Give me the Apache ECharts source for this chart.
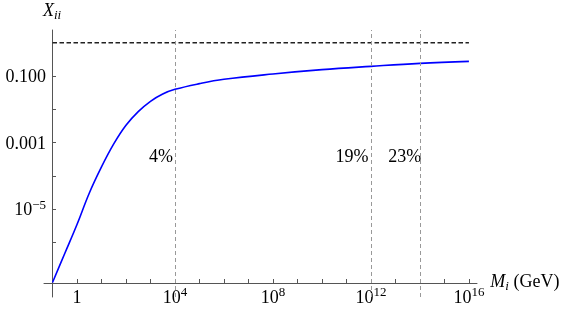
<!DOCTYPE html>
<html><head><meta charset="utf-8">
<script src="https://cdn.jsdelivr.net/npm/echarts@6/dist/echarts.min.js"></script>
<style>html,body{margin:0;padding:0;background:#fff}#c{width:568px;height:334px}</style>
</head><body><div id="c"></div>
<script>
// log10 of M_i (GeV) and log10 of X_ii
const log10Mass = [-1, -0.5, 0, 0.5, 1, 1.5, 2, 2.5, 3, 3.5, 4, 5, 6, 8, 10, 12, 14, 16];
const log10Xii  = [-7.20, -6.33, -5.46, -4.52, -3.73, -3.04, -2.48, -2.07, -1.76, -1.54, -1.40, -1.23, -1.10, -0.94, -0.81, -0.71, -0.62, -0.56];

const xTickExps = [0,1,2,3,4,5,6,7,8,9,10,11,12,13,14,15,16];
const xLabelExps = [0, 4, 8, 12, 16];
const yTickExps = [-6,-5,-4,-3,-2,-1,0];
const yLabelExps = [-5, -3, -1];
const yLabelText = {'-1': '0.100', '-3': '0.001'};

const refLineMass = [4, 12, 14];      // log10 M of vertical dashed lines
const refLevel = 0;                   // X_ii = 1 dashed line
const shareText = ['4%', '19%', '23%'];
const shareMassAnchor = [3.45, 11.25, 13.4];
const shareLevel = -3.46;

const FONT = 'Liberation Serif';
const AX = '#555';

const supRich = {
  b: {fontFamily: FONT, fontSize: 18, color: '#000', lineHeight: 21, verticalAlign: 'bottom'},
  s: {fontFamily: FONT, fontSize: 13, color: '#000', lineHeight: 13, verticalAlign: 'top'}
};

const chart = echarts.init(document.getElementById('c'), null, {renderer: 'canvas'});
chart.setOption({
  animation: false,
  grid: {left: 44, right: 91, top: 30, bottom: 37},
  xAxis: {
    type: 'value', min: -1.347, max: 16.33, offset: -14,
    splitLine: {show: false},
    axisLine: {onZero: false, lineStyle: {color: AX, width: 1}},
    axisTick: {show: true, inside: true, length: 4, customValues: xTickExps, lineStyle: {color: AX}},
    axisLabel: {
      customValues: xLabelExps, margin: 3,
      formatter: v => v === 0 ? '{b|1}' : '{b|10}{s|' + v + '}',
      rich: supRich
    },
    name: '{m|M}{i|i}{t| (GeV)}', nameLocation: 'end', nameGap: 11,
    nameTextStyle: {
      rich: {
        m: {fontFamily: FONT, fontSize: 18, fontStyle: 'italic', color: '#000', lineHeight: 20, verticalAlign: 'top'},
        i: {fontFamily: FONT, fontSize: 13, fontStyle: 'italic', color: '#000', lineHeight: 13, verticalAlign: 'bottom'},
        t: {fontFamily: FONT, fontSize: 18, color: '#000', lineHeight: 20, verticalAlign: 'top'}
      }
    }
  },
  yAxis: {
    type: 'value', min: -7.637, max: 0.381, offset: -8,
    splitLine: {show: false},
    axisLine: {onZero: false, lineStyle: {color: AX, width: 1}},
    axisTick: {show: true, inside: true, length: 4, customValues: yTickExps, lineStyle: {color: AX}},
    axisLabel: {
      customValues: yLabelExps, margin: 6,
      formatter: v => yLabelText[String(v)] ? '{b|' + yLabelText[String(v)] + '}' : '{b|10}{s|\u2212' + Math.abs(v) + '}',
      rich: supRich
    },
    name: '{x|X}{i|ii}', nameLocation: 'end', nameGap: 8,
    nameTextStyle: {
      align: 'center',
      rich: {
        x: {fontFamily: FONT, fontSize: 18, fontStyle: 'italic', color: '#000', lineHeight: 20, verticalAlign: 'top'},
        i: {fontFamily: FONT, fontSize: 13, fontStyle: 'italic', color: '#000', lineHeight: 13, verticalAlign: 'bottom'}
      }
    }
  },
  series: [
    {
      type: 'line', name: 'Xii',
      data: log10Mass.map((m, i) => [m, log10Xii[i]]),
      showSymbol: false, smooth: 0.4,
      lineStyle: {color: '#0000ff', width: 1.6}, z: 4,
      markLine: {
        silent: true, symbol: ['none', 'none'], label: {show: false},
        lineStyle: {type: [4, 3], color: '#999', width: 1},
        data: refLineMass.map(v => ({xAxis: v}))
      }
    },
    {
      type: 'line', name: 'unit',
      data: [[log10Mass[0], refLevel], [log10Mass[log10Mass.length - 1], refLevel]],
      showSymbol: false, symbol: 'none',
      lineStyle: {color: '#222', width: 1.5, type: [4.5, 2.5]}, z: 3
    },
    {
      type: 'scatter', name: 'share',
      data: shareMassAnchor.map((x, i) => ({value: [x, shareLevel], name: shareText[i]})),
      symbolSize: 1, itemStyle: {opacity: 0},
      label: {show: true, position: [0, 0], align: 'center', verticalAlign: 'middle',
              formatter: '{b}', color: '#000', opacity: 1, textBorderWidth: 0,
              fontFamily: FONT, fontSize: 18}
    }
  ]
});
</script>
</body></html>
